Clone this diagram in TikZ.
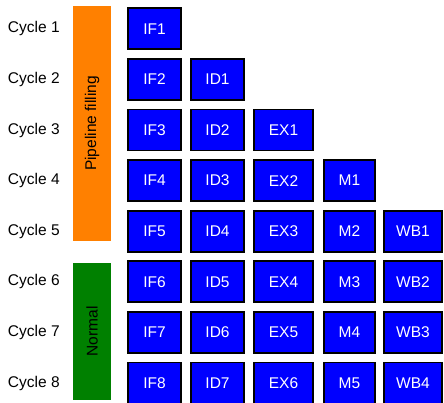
\documentclass[tikz,border=0pt]{standalone}
\usepackage{fontspec}
\setmainfont{Liberation Sans}
\definecolor{stageblue}{RGB}{0,0,255}
\definecolor{fillorange}{RGB}{255,128,0}
\definecolor{normalgreen}{RGB}{0,128,0}
\begin{document}
\begin{tikzpicture}[x=1pt,y=-1pt,
  every node/.style={font=\fontsize{15.5}{18}\selectfont, inner sep=0pt, outer sep=0pt},
  stage/.style={draw=black, line width=1.8pt, fill=stageblue, text=white,
                minimum height=41pt},
  cyclelabel/.style={anchor=west, text=black},
  phase/.style={anchor=north west, minimum width=38pt}
]
\useasboundingbox (0,0) rectangle (444,402);
\clip (0,0) rectangle (444,402);

% column centres of the five stages
\def\colIF{154.5}\def\colID{217.5}\def\colEX{283.5}\def\colM{349.5}\def\colWB{413}

% phase bars
\node[phase, fill=fillorange, minimum height=235pt] (filling) at (73,6) {};
\node[rotate=90] (fillingtext) at (filling.center) {Pipeline filling};
\node[phase, fill=normalgreen, minimum height=137pt] (normal) at (73,263) {};
\node[rotate=90] (normaltext) at (normal.center) {Normal};

% one row per clock cycle
\foreach \c in {1,...,8}{
  \pgfmathsetmacro{\yc}{28.8+50.6*(\c-1)}
  \node[cyclelabel] (cyc\c) at (8,\yc) {Cycle \c};
  \node[stage, minimum width=53pt] (if\c) at (\colIF,\yc) {IF\c};
}
\foreach \c in {2,...,8}{
  \pgfmathsetmacro{\yc}{28.8+50.6*(\c-1)}
  \pgfmathtruncatemacro{\n}{\c-1}
  \node[stage, minimum width=53pt] (id\n) at (\colID,\yc) {ID\n};
}
\foreach \c in {3,...,8}{
  \pgfmathsetmacro{\yc}{28.8+50.6*(\c-1)}
  \pgfmathtruncatemacro{\n}{\c-2}
  \node[stage, minimum width=59pt] (ex\n) at (\colEX,\yc) {EX\n};
}
\foreach \c in {4,...,8}{
  \pgfmathsetmacro{\yc}{28.8+50.6*(\c-1)}
  \pgfmathtruncatemacro{\n}{\c-3}
  \node[stage, minimum width=51pt] (m\n) at (\colM,\yc) {M\n};
}
\foreach \c in {5,...,8}{
  \pgfmathsetmacro{\yc}{28.8+50.6*(\c-1)}
  \pgfmathtruncatemacro{\n}{\c-4}
  \node[stage, minimum width=58pt] (wb\n) at (\colWB,\yc) {WB\n};
}
\end{tikzpicture}
\end{document}
